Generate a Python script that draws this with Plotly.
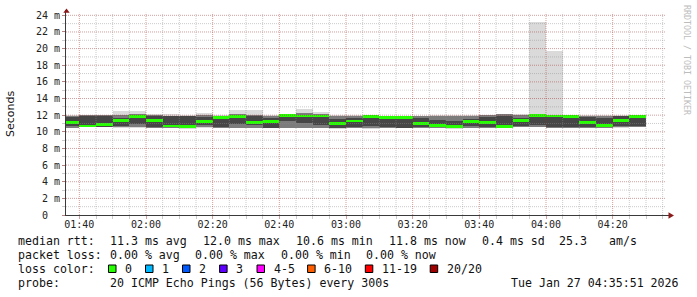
import pandas as pd
import plotly.graph_objects as go

# ---------------- data ----------------
bin_start = pd.date_range("2026-01-27 01:35:00", "2026-01-27 04:25:00", freq="5min")

median = [11.15, 10.7, 10.85, 11.35, 11.85, 11.35, 10.7, 10.6, 11.2, 11.7,
          11.85, 11.1, 11.25, 12.0, 11.9, 11.9, 10.95, 11.3, 11.8, 11.7,
          11.7, 11.0, 10.75, 10.6, 11.25, 11.1, 10.65, 11.35, 11.95, 11.9,
          11.85, 11.1, 10.75, 11.4, 11.85]

outer_hi = [12.05, 12.0, 12.0, 12.5, 12.5, 12.2, 12.1, 12.0, 12.3, 12.0,
            12.65, 12.65, 12.0, 12.2, 12.8, 12.4, 12.05, 12.05, 12.0, 11.95,
            11.95, 11.95, 12.0, 12.0, 12.0, 12.05, 12.15, 12.1, 23.2, 19.75,
            12.0, 12.0, 12.0, 12.0, 11.95]
outer_lo = [10.4, 10.55, 10.55, 10.5, 10.5, 10.5, 10.4, 10.35, 10.5, 10.4,
            10.45, 10.5, 10.4, 10.4, 10.45, 10.45, 10.35, 10.45, 10.35, 10.45,
            10.45, 10.42, 10.42, 10.35, 10.42, 10.42, 10.42, 10.6, 10.6, 10.45,
            10.42, 10.4, 10.42, 10.5, 10.55]
mid_hi = [11.9, 12.0, 12.0, 12.0, 12.2, 12.05, 11.95, 11.95, 12.0, 11.9,
          12.1, 12.05, 11.9, 12.05, 12.3, 12.1, 11.95, 11.95, 11.95, 11.9,
          11.9, 11.95, 11.95, 11.95, 11.95, 12.0, 12.1, 12.0, 12.0, 11.95,
          11.95, 11.95, 11.95, 11.95, 11.95]
mid_lo = [10.45, 10.55, 10.55, 10.6, 10.55, 10.5, 10.45, 10.4, 10.55, 10.45,
          10.5, 10.5, 10.4, 10.45, 10.5, 10.5, 10.4, 10.45, 10.4, 10.45,
          10.45, 10.45, 10.45, 10.4, 10.45, 10.45, 10.45, 10.6, 10.6, 10.45,
          10.45, 10.4, 10.45, 10.6, 10.6]
inner_hi = [11.8, 11.95, 11.95, 11.7, 12.0, 11.9, 11.9, 11.9, 11.8, 11.8,
            11.9, 11.9, 11.6, 12.0, 12.0, 11.95, 11.5, 11.6, 11.9, 11.75,
            11.75, 11.6, 11.4, 11.3, 11.5, 11.8, 11.95, 11.6, 11.95, 11.9,
            11.9, 11.8, 11.6, 11.9, 11.95]
inner_lo = [10.7, 10.6, 10.6, 10.7, 10.9, 10.6, 10.55, 10.5, 10.8, 10.6,
            10.9, 10.8, 10.5, 11.3, 11.0, 10.8, 10.5, 10.6, 10.7, 10.6,
            10.5, 10.6, 10.6, 10.6, 10.7, 10.6, 10.6, 10.7, 10.8, 10.6,
            10.6, 10.6, 10.6, 10.7, 10.7]

y_tickvals = [0, 2, 4, 6, 8, 10, 12, 14, 16, 18, 20, 22, 24]
y_ticktext = ["0\u00a0\u00a0", "2 m", "4 m", "6 m", "8 m", "10 m", "12 m",
              "14 m", "16 m", "18 m", "20 m", "22 m", "24 m"]

loss_labels = ["0", "1", "2", "3", "4-5", "6-10", "11-19", "20/20"]
loss_colors = ["#26ff00", "#00b8ff", "#0059ff", "#5e00ff", "#ff00ff", "#ff5e00", "#ff0000", "#a10000"]

legend_line1 = ["median rtt:", "11.3 ms avg", "12.0 ms max", "10.6 ms min", "11.8 ms now", "0.4 ms sd", "25.3", "am/s"]
legend_line2 = ["packet loss:", "0.00 % avg", "0.00 % max", "0.00 % min", "0.00 % now"]
probe_text = "20 ICMP Echo Pings (56 Bytes) every 300s"
date_text = "Tue Jan 27 04:35:51 2026"

# ---------------- geometry / style ----------------
W, H = 697, 297
PL, PR, PT, PB = 66, 666, 10, 215          # plot area in pixels
X0 = pd.Timestamp("2026-01-27 01:36:00")
X1 = pd.Timestamp("2026-01-27 04:36:00")
YMAX = 24.64
STEP_MS = 5 * 60 * 1000
MED_HALF = 0.17
MONO = "DejaVu Sans Mono"
TXT = "#111111"
MGRID = "rgba(160,40,40,0.45)"
MINGRID = "rgba(140,140,140,0.45)"
AXIS = "#3a3a3a"
ARROW = "#8b1a1a"


def px(xp):
    return (xp - PL) / (PR - PL)


def py(yp):
    return (PB - yp) / (PB - PT)


centers = [t + pd.Timedelta(minutes=2.5) for t in bin_start]

fig = go.Figure()
layers = [(outer_lo, outer_hi, "#dadada"),
          (mid_lo, mid_hi, "#7c7c7c"),
          (inner_lo, inner_hi, "#464646")]
for lo, hi, col in layers:
    fig.add_trace(go.Bar(x=centers, base=lo, y=[h - l for l, h in zip(lo, hi)],
                         width=STEP_MS, marker=dict(color=col, line=dict(width=0)),
                         hoverinfo="skip"))
fig.add_trace(go.Bar(x=centers, base=[m - MED_HALF for m in median],
                     y=[2 * MED_HALF] * len(median), width=STEP_MS,
                     marker=dict(color=loss_colors[0], line=dict(width=0)),
                     hoverinfo="skip"))

shapes = []
# horizontal grid (above data, like rrdtool)
for v in range(1, 25):
    shapes.append(dict(type="line", xref="x", yref="y", x0=X0, x1=X1, y0=v, y1=v,
                       line=dict(color=MGRID if v % 2 == 0 else MINGRID, width=1, dash="1px,1px"),
                       layer="above"))
# vertical grid
for t in pd.date_range("2026-01-27 01:40:00", "2026-01-27 04:35:00", freq="5min"):
    major = (t.minute % 20 == 0)
    shapes.append(dict(type="line", xref="x", yref="y", x0=t, x1=t, y0=0, y1=24.3,
                       line=dict(color=MGRID if major else MINGRID, width=1, dash="1px,1px"),
                       layer="above"))
# axis arrows
shapes.append(dict(type="path", xref="paper", yref="paper", layer="above",
                   path=f"M {px(66.5)} {py(8.5)} L {px(63.3)} {py(12.8)} L {px(69.7)} {py(12.8)} Z",
                   fillcolor=ARROW, line=dict(width=0)))
shapes.append(dict(type="line", xref="paper", yref="paper", layer="above",
                   x0=px(666), x1=px(670), y0=py(215.5), y1=py(215.5),
                   line=dict(color=AXIS, width=1)))
shapes.append(dict(type="path", xref="paper", yref="paper", layer="above",
                   path=f"M {px(674)} {py(215.5)} L {px(668.5)} {py(212.3)} L {px(668.5)} {py(218.7)} Z",
                   fillcolor=ARROW, line=dict(width=0)))

annotations = []


def add_text(xp, yp, text, anchor="left", size=11.6, color=TXT, angle=0, family=MONO):
    annotations.append(dict(xref="paper", yref="paper", x=px(xp), y=py(yp), text=text,
                            showarrow=False, xanchor=anchor, yanchor="middle",
                            textangle=angle, font=dict(family=family, size=size, color=color)))


# legend line 1
for txt, xp in zip(legend_line1, [16, 107.5, 201, 293.5, 386.7, 479.5, 557, 606.7]):
    add_text(xp, 241.2, txt)
# legend line 2
for txt, xp in zip(legend_line2, [16, 107.5, 193.3, 279, 364.4]):
    add_text(xp, 255.2, txt)
# legend line 3
add_text(16, 269, "loss color:")
for lab, col, xp in zip(loss_labels, loss_colors, [108.5, 145.5, 182.5, 219.6, 257, 307.6, 365.3, 430.2]):
    shapes.append(dict(type="rect", xref="paper", yref="paper", layer="above",
                       x0=px(xp), x1=px(xp + 7.5), y0=py(265), y1=py(272.5),
                       fillcolor=col, line=dict(color="#000000", width=1)))
    add_text(xp + 14.6, 269, lab)
# legend line 4
add_text(16, 282.8, "probe:")
add_text(107.5, 282.8, probe_text)
add_text(680.5, 282.8, date_text, anchor="right")
# axis title and watermark
add_text(10, 114, "Seconds", anchor="center", size=11, angle=-90, family="DejaVu Sans")
add_text(687, 60, "RRDTOOL / TOBI OETIKER", anchor="center", size=8.3, angle=90, color="#bdbdbd")

fig.update_layout(
    width=W, height=H,
    margin=dict(l=PL, r=W - PR, t=PT, b=H - PB, pad=0, autoexpand=False),
    paper_bgcolor="white", plot_bgcolor="white",
    barmode="overlay", bargap=0, showlegend=False,
    shapes=shapes, annotations=annotations,
    xaxis=dict(type="date", range=[X0, X1], showgrid=False, zeroline=False,
               showline=True, linecolor=AXIS, linewidth=1,
               tickmode="linear", tick0="2026-01-27 00:00:00", dtick=20 * 60 * 1000,
               tickformat="%H:%M", ticks="outside", ticklen=3, tickcolor=MGRID,
               ticklabelstandoff=-3,
               tickfont=dict(family=MONO, size=10, color="#222222"),
               minor=dict(dtick=STEP_MS, tick0="2026-01-27 00:00:00", ticks="outside",
                          ticklen=3, tickcolor=MINGRID, showgrid=False),
               fixedrange=True),
    yaxis=dict(range=[0, YMAX], showgrid=False, zeroline=False,
               showline=True, linecolor=AXIS, linewidth=1,
               tickmode="array", tickvals=y_tickvals, ticktext=y_ticktext,
               ticks="outside", ticklen=3, tickcolor=MGRID,
               tickfont=dict(family=MONO, size=10, color="#222222"),
               minor=dict(dtick=1, ticks="outside", ticklen=3, tickcolor=MINGRID, showgrid=False),
               fixedrange=True),
)

fig.write_html("out.html")
